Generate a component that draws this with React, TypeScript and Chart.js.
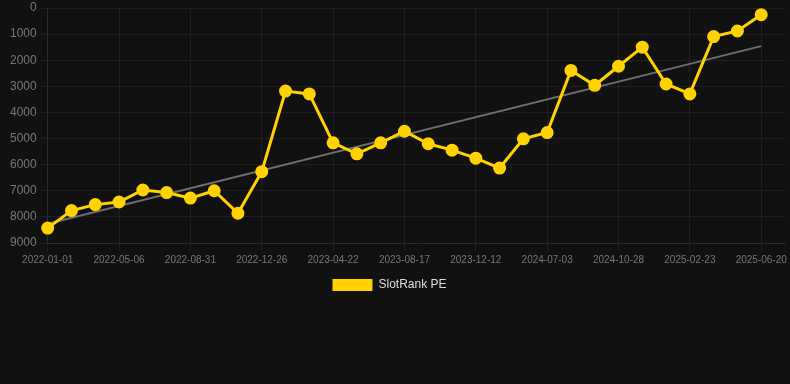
import React, { useEffect, useRef } from "react";
import { Chart, registerables } from "chart.js";

Chart.register(...registerables);

const dateLabels: string[] = [
  "2022-01-01", "2022-02-11", "2022-03-25", "2022-05-06", "2022-06-15", "2022-07-23",
  "2022-08-31", "2022-10-09", "2022-11-17", "2022-12-26", "2023-02-03", "2023-03-14",
  "2023-04-22", "2023-05-31", "2023-07-09", "2023-08-17", "2023-09-25", "2023-11-03",
  "2023-12-12", "2024-03-10", "2024-05-07", "2024-07-03", "2024-08-11", "2024-09-19",
  "2024-10-28", "2024-12-06", "2025-01-14", "2025-02-23", "2025-04-03", "2025-05-12",
  "2025-06-20", "",
];

const rankValues: (number | null)[] = [
  8430, 7760, 7530, 7430, 6970, 7070, 7280, 7000, 7860, 6270,
  3180, 3290, 5165, 5585, 5165, 4720, 5200, 5445, 5750, 6130,
  5010, 4770, 2390, 2960, 2230, 1500, 2910, 3290, 1095, 880,
  255, null,
];

const trendStart = 8260;
const trendEnd = 1460;
const trendValues: (number | null)[] = dateLabels.map((_, i) =>
  i === 0 ? trendStart : i === 30 ? trendEnd : null
);

const yTicks = [0, 1000, 2000, 3000, 4000, 5000, 6000, 7000, 8000, 9000];

const legendShift = {
  id: "legendShift",
  beforeDraw(chart: any) {
    if (chart.legend) {
      chart.legend.left -= 21;
    }
  },
};

export default function App() {
  const ref = useRef<HTMLCanvasElement | null>(null);

  useEffect(() => {
    document.body.style.margin = "0";
    document.body.style.background = "#111111";
    document.body.style.overflow = "hidden";
    if (!ref.current) return;
    const chart = new Chart(ref.current, {
      type: "line",
      data: {
        labels: dateLabels,
        datasets: [
          {
            label: "SlotRank PE",
            data: rankValues,
            borderColor: "#FFD200",
            backgroundColor: "#FFD200",
            borderWidth: 3,
            pointRadius: 5,
            pointHoverRadius: 5,
            pointBackgroundColor: "#FFD200",
            pointBorderColor: "#FFD200",
            tension: 0,
          },
          {
            label: "trend",
            data: trendValues,
            borderColor: "#6e6e6e",
            backgroundColor: "#6e6e6e",
            borderWidth: 2,
            pointRadius: 0,
            spanGaps: true,
            tension: 0,
          },
        ],
      },
      plugins: [legendShift],
      options: {
        animation: false,
        responsive: false,
        maintainAspectRatio: false,
        layout: { padding: { left: 7, top: 0, right: 0 } },
        plugins: {
          legend: {
            position: "bottom",
            labels: {
              color: "#dddddd",
              font: { size: 12 },
              boxWidth: 40,
              boxHeight: 12,
              filter: (item) => item.text === "SlotRank PE",
              generateLabels: (c) =>
                Chart.defaults.plugins.legend.labels
                  .generateLabels(c)
                  .map((l) => ({ ...l, lineWidth: 0 })),
            },
          },
          tooltip: { enabled: false },
        },
        scales: {
          x: {
            ticks: {
              color: "#777777",
              font: { size: 10 },
              maxRotation: 0,
              autoSkip: true,
              callback: function (_v, i) {
                return i % 3 === 0 ? dateLabels[i] : null;
              },
            },
            grid: { color: "rgba(255,255,255,0.06)" },
            border: { color: "rgba(255,255,255,0.06)" },
          },
          y: {
            reverse: true,
            min: 0,
            max: 9000,
            afterFit: (s: any) => {
              s.paddingTop = 6;
            },
            afterBuildTicks: (axis) => {
              axis.ticks = yTicks.map((v) => ({ value: v }));
            },
            ticks: {
              color: "#777777",
              font: { size: 12 },
              callback: (v) => String(v),
            },
            grid: { color: "rgba(255,255,255,0.06)" },
            border: { color: "rgba(255,255,255,0.06)" },
          },
        },
      },
    });
    return () => chart.destroy();
  }, []);

  return (
    <div style={{ width: 790, height: 384, background: "#111111", overflow: "hidden" }}>
      <canvas ref={ref} width={793} height={301} />
    </div>
  );
}
